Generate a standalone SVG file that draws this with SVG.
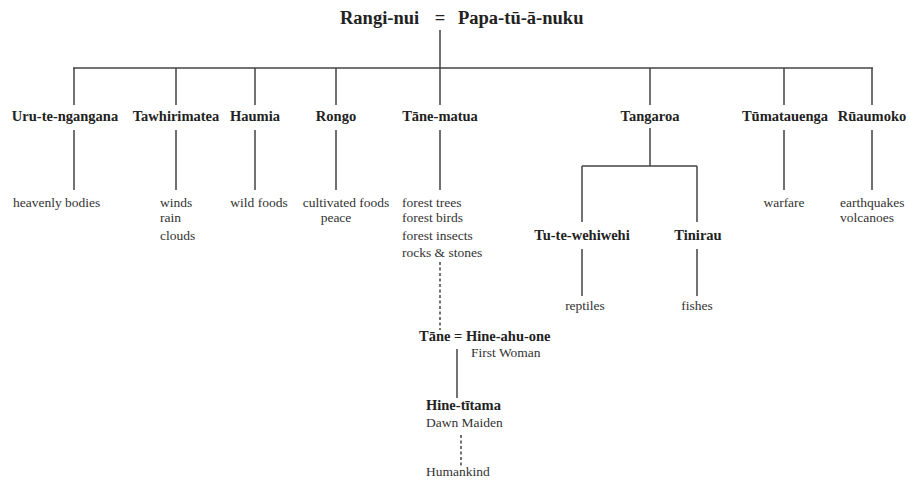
<svg xmlns="http://www.w3.org/2000/svg" width="910" height="481" viewBox="0 0 910 481">
<style>
.n{font-family:"Liberation Serif","DejaVu Serif",serif;font-weight:bold;font-size:14.5px;fill:#222}
.t{font-family:"Liberation Serif","DejaVu Serif",serif;font-weight:bold;font-size:18.5px;fill:#222}
.d{font-family:"Liberation Serif","DejaVu Serif",serif;font-size:13.5px;fill:#333}
.c{text-anchor:middle}
.l{stroke:#444;stroke-width:1.5;fill:none}
.ds{stroke:#444;stroke-width:1.5;fill:none;stroke-dasharray:3,2.5}
</style>
<rect width="910" height="481" fill="#fff"/>
<g id="connectors">
<path class="l" d="M440 30V68M73 68H873M74 68V105M176 68V105M255 68V105M336 68V105M440 68V105M650 68V105M784 68V105M872 68V105"/>
<path class="l" d="M74 130V190M176 130V190M255 130V190M336 130V190M440 130V190M784 130V190M872 130V190"/>
<path class="l" d="M650 128V166M582 166H697M582 166V222M697 166V222M582 249V296M697 249V296"/>
<path class="ds" d="M440 262V330"/>
<path class="l" d="M457 349V398"/>
<path class="ds" d="M461 435V466"/>
</g>
<g id="parents"><text class="t" x="340" y="24">Rangi-nui</text><text class="t c" x="440" y="24">=</text><text class="t" x="458" y="24">Papa-tū-ā-nuku</text></g>
<g id="uru"><text class="n c" x="65" y="121">Uru-te-ngangana</text><text class="d" x="13" y="207">heavenly bodies</text></g>
<g id="tawhirimatea"><text class="n c" x="176" y="121">Tawhirimatea</text><text class="d" x="160" y="207">winds</text><text class="d" x="160" y="222">rain</text><text class="d" x="160" y="240">clouds</text></g>
<g id="haumia"><text class="n c" x="255" y="121">Haumia</text><text class="d c" x="259" y="207">wild foods</text></g>
<g id="rongo"><text class="n c" x="336" y="121">Rongo</text><text class="d c" x="346" y="207">cultivated foods</text><text class="d c" x="336" y="222">peace</text></g>
<g id="tane-matua"><text class="n c" x="440" y="121">Tāne-matua</text><text class="d" x="402" y="207">forest trees</text><text class="d" x="402" y="222">forest birds</text><text class="d" x="402" y="240">forest insects</text><text class="d" x="402" y="257">rocks &amp; stones</text></g>
<g id="tangaroa"><text class="n c" x="650" y="121">Tangaroa</text></g>
<g id="tumatauenga"><text class="n c" x="785" y="121">Tūmatauenga</text><text class="d c" x="784" y="207">warfare</text></g>
<g id="ruaumoko"><text class="n c" x="872" y="121">Rūaumoko</text><text class="d" x="840" y="207">earthquakes</text><text class="d" x="840" y="222">volcanoes</text></g>
<g id="tu-te-wehiwehi"><text class="n c" x="582" y="240">Tu-te-wehiwehi</text><text class="d c" x="585" y="310">reptiles</text></g>
<g id="tinirau"><text class="n c" x="698" y="240">Tinirau</text><text class="d c" x="697" y="310">fishes</text></g>
<g id="tane"><text class="n" x="419" y="341">Tāne = Hine-ahu-one</text><text class="d" x="471" y="357">First Woman</text></g>
<g id="hine-titama"><text class="n" x="426" y="410">Hine-tītama</text><text class="d" x="426" y="427">Dawn Maiden</text></g>
<g id="humankind"><text class="d" x="426" y="476">Humankind</text></g>
</svg>
